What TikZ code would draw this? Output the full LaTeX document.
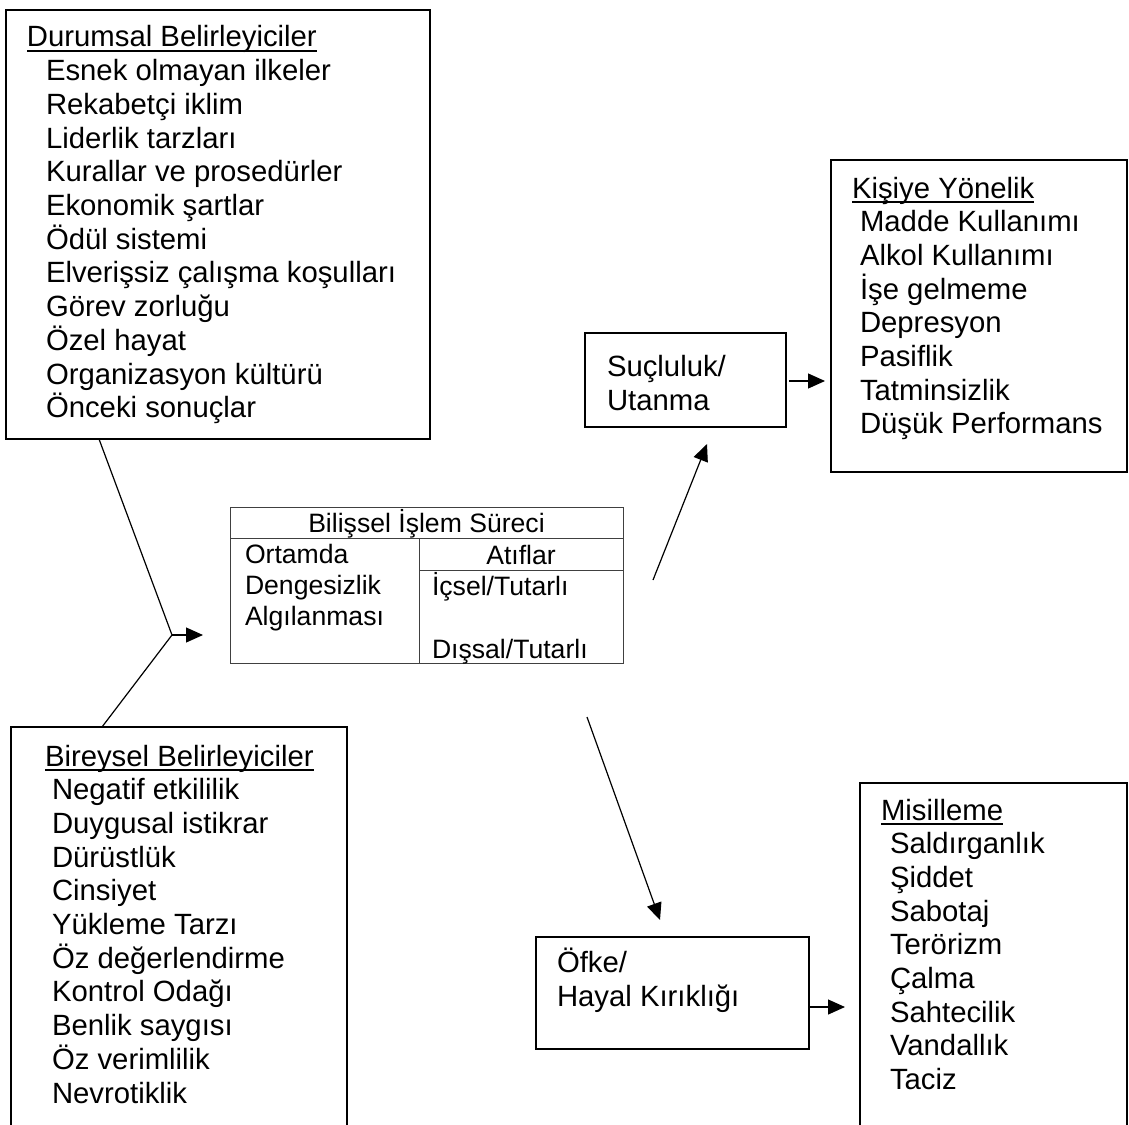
\documentclass[tikz,border=0pt]{standalone}
\usepackage{fontspec}
\setmainfont{Liberation Sans}
\usetikzlibrary{arrows.meta,calc}
\begin{document}
\begin{tikzpicture}[x=1pt,y=-1pt,
  frame/.style={draw, line width=1.8pt, inner sep=0pt, outer sep=0pt, anchor=north west},
  grid/.style={draw=black!75, line width=1pt},
  link/.style={line width=1.2pt},
  arr/.style={link, -{Triangle[length=17pt,width=15pt]}},
  txt/.style={inner sep=0pt, outer sep=0pt, anchor=base west, font=\fontsize{29.3}{33.7}\selectfont},
  ttxt/.style={inner sep=0pt, outer sep=0pt, anchor=base west, font=\fontsize{26.6}{30.6}\selectfont},
  uline/.style={line width=1.7pt}]
\useasboundingbox (0,0) rectangle (1129,1124);
\clip (0,0) rectangle (1129,1124);

% frames
\node[frame, minimum width=424pt, minimum height=429pt] (dur) at (6,10) {};
\node[frame, minimum width=336pt, minimum height=420pt] (bir) at (11,727) {};
\node[frame, minimum width=201pt, minimum height=94pt] (suc) at (585,333) {};
\node[frame, minimum width=296pt, minimum height=312pt] (kis) at (831,160) {};
\node[frame, minimum width=273pt, minimum height=112pt] (ofk) at (536,937) {};
\node[frame, minimum width=267pt, minimum height=400pt] (mis) at (860,783) {};

% processing table
\node[grid, minimum width=393pt, minimum height=156pt, inner sep=0pt, outer sep=0pt, anchor=north west] (tab) at (230,507) {};
\draw[grid] ($(tab.north west)+(0,31)$) -- ($(tab.north east)+(0,31)$);
\draw[grid] ($(tab.north west)+(189,31)$) -- ($(tab.south west)+(189,0)$);
\draw[grid] ($(tab.north west)+(189,63)$) -- ($(tab.north east)+(0,63)$);
\node[ttxt, anchor=base] (tab-t) at (426.5,532) {Bilişsel İşlem Süreci};
\node[ttxt] (tab-l1) at (245,563) {Ortamda};
\node[ttxt] (tab-l2) at (245,594) {Dengesizlik};
\node[ttxt] (tab-l3) at (245,625) {Algılanması};
\node[ttxt, anchor=base] (tab-a) at (521,564) {Atıflar};
\node[ttxt] (tab-r1) at (432,595) {İçsel/Tutarlı};
\node[ttxt] (tab-r2) at (432,658) {Dışsal/Tutarlı};

% situational determinants
\node[txt] (dur-t) at (27,47) {Durumsal Belirleyiciler};
\draw[uline] ($(dur-t.base west)+(0,4)$) -- ($(dur-t.base east)+(0,4)$);
\foreach \s [count=\i] in {Esnek olmayan ilkeler, Rekabetçi iklim, Liderlik tarzları,
  Kurallar ve prosedürler, Ekonomik şartlar, Ödül sistemi, Elverişsiz çalışma koşulları,
  Görev zorluğu, Özel hayat, Organizasyon kültürü, Önceki sonuçlar}
  \node[txt] (dur-\i) at (46,{47+\i*33.7}) {\s};

% individual determinants
\node[txt] (bir-t) at (45,766) {Bireysel Belirleyiciler};
\draw[uline] ($(bir-t.base west)+(0,4)$) -- ($(bir-t.base east)+(0,4)$);
\foreach \s [count=\i] in {Negatif etkililik, Duygusal istikrar, Dürüstlük, Cinsiyet,
  Yükleme Tarzı, Öz değerlendirme, Kontrol Odağı, Benlik saygısı, Öz verimlilik, Nevrotiklik}
  \node[txt] (bir-\i) at (52,{766+\i*33.7}) {\s};

% emotions
\node[txt] (suc-1) at (607,376) {Suçluluk/};
\node[txt] (suc-2) at (607,410) {Utanma};
\node[txt] (ofk-1) at (557,972) {Öfke/};
\node[txt] (ofk-2) at (557,1006) {Hayal Kırıklığı};

% person-directed outcomes
\node[txt] (kis-t) at (852,198) {Kişiye Yönelik};
\draw[uline] ($(kis-t.base west)+(0,4)$) -- ($(kis-t.base east)+(0,4)$);
\foreach \s [count=\i] in {Madde Kullanımı, Alkol Kullanımı, İşe gelmeme, Depresyon,
  Pasiflik, Tatminsizlik, Düşük Performans}
  \node[txt] (kis-\i) at (860,{198+\i*33.7}) {\s};

% retaliation outcomes
\node[txt] (mis-t) at (881,820) {Misilleme};
\draw[uline] ($(mis-t.base west)+(0,4)$) -- ($(mis-t.base east)+(0,4)$);
\foreach \s [count=\i] in {Saldırganlık, Şiddet, Sabotaj, Terörizm, Çalma, Sahtecilik,
  Vandallık, Taciz}
  \node[txt] (mis-\i) at (890,{820+\i*33.7}) {\s};

% connectors
\coordinate (v) at (172,635);
\draw[link] ($(dur.south west)+(93,0)$) -- (v) -- ($(bir.north west)+(91,0)$);
\draw[arr] (v) -- ($(v -| tab.west)+(-27,0)$);
\draw[arr] ($(tab.east)+(30,-5)$) -- ($(suc.south west)+(122,17)$);
\draw[arr] ($(tab.south east)+(-36,54)$) -- ($(ofk.north west)+(124,-17)$);
\draw[arr] ($(suc.east)+(3,1)$) -- ($(suc.east -| kis.west)+(-6,1)$);
\draw[arr] ($(ofk.east)+(1,14)$) -- ($(ofk.east -| mis.west)+(-15,14)$);
\end{tikzpicture}
\end{document}
